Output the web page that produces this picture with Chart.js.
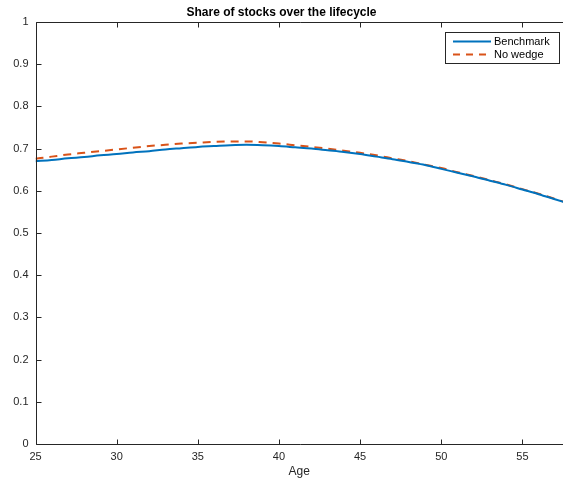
<!DOCTYPE html>
<html>
<head>
<meta charset="utf-8">
<script src="https://cdn.jsdelivr.net/npm/chart.js@4.4.1/dist/chart.umd.min.js"></script>
<style>
  html, body { margin: 0; padding: 0; background: #ffffff; overflow: hidden; }
  #wrap { width: 563px; height: 483px; position: relative; }
</style>
</head>
<body>
<div id="wrap"><canvas id="c" width="563" height="483"></canvas></div>
<script>
// ---- data ----
const ages      = [25, 26, 27, 28, 29, 30, 31, 32, 33, 34, 35, 36, 37, 38, 39, 40, 41, 42, 43, 44, 45, 46, 47, 48, 49, 50, 51, 52, 53, 54, 55, 56, 57, 58];
const benchmark = [0.670, 0.673, 0.677, 0.680, 0.684, 0.687, 0.691, 0.694, 0.698, 0.701, 0.704, 0.706, 0.708, 0.709, 0.708, 0.706, 0.703, 0.700, 0.696, 0.692, 0.687, 0.681, 0.675, 0.668, 0.661, 0.652, 0.643, 0.634, 0.624, 0.614, 0.603, 0.592, 0.580, 0.568];
const noWedge   = [0.676, 0.681, 0.686, 0.690, 0.694, 0.698, 0.702, 0.706, 0.709, 0.712, 0.714, 0.716, 0.717, 0.717, 0.715, 0.712, 0.708, 0.704, 0.700, 0.695, 0.690, 0.684, 0.677, 0.670, 0.662, 0.654, 0.644, 0.635, 0.625, 0.615, 0.604, 0.593, 0.581, 0.568];
const xTicks    = [25, 30, 35, 40, 45, 50, 55];
const yTicks    = [0, 0.1, 0.2, 0.3, 0.4, 0.5, 0.6, 0.7, 0.8, 0.9, 1];
const seriesNames = ['Benchmark', 'No wedge'];
const titleText = 'Share of stocks over the lifecycle';
const xLabel    = 'Age';

const AXIS = '#262626';
const BLUE = '#0072BD';
const ORANGE = '#D95319';
const FONT = '"Liberation Sans", Arial, Helvetica, sans-serif';

function toPoints(xs, ys) { return xs.map((x, i) => ({ x: x, y: ys[i] })); }

const boxPlugin = {
  id: 'matlabBox',
  afterDraw(chart) {
    const ctx = chart.ctx;
    const a = chart.chartArea;
    const xs = chart.scales.x, ys = chart.scales.y;
    ctx.save();
    ctx.strokeStyle = AXIS;
    ctx.lineWidth = 1;
    ctx.beginPath();
    const L = Math.round(a.left) + 0.5, B = Math.round(a.bottom) + 0.5, T = Math.round(a.top) + 0.5;
    ctx.moveTo(L, T); ctx.lineTo(L, B); ctx.lineTo(a.right + 5, B);
    ctx.moveTo(L, T); ctx.lineTo(a.right + 5, T);
    xTicks.forEach(v => {
      const px = Math.round(xs.getPixelForValue(v)) + 0.5;
      ctx.moveTo(px, B); ctx.lineTo(px, B - 5);
      ctx.moveTo(px, T); ctx.lineTo(px, T + 5);
    });
    yTicks.forEach(v => {
      const py = Math.round(ys.getPixelForValue(v)) + 0.5;
      ctx.moveTo(L, py); ctx.lineTo(L + 5, py);
    });
    ctx.stroke();

    // legend
    const lx = 445.5, ly = 32.5, lw = 114, lh = 31;
    ctx.fillStyle = '#ffffff';
    ctx.fillRect(lx, ly, lw, lh);
    ctx.strokeStyle = AXIS;
    ctx.lineWidth = 1;
    ctx.strokeRect(lx, ly, lw, lh);
    const colors = [BLUE, ORANGE];
    const dashes = [[], [7, 6]];
    seriesNames.forEach((name, i) => {
      const y = 41.5 + i * 13;
      ctx.beginPath();
      ctx.strokeStyle = colors[i];
      ctx.lineWidth = 2;
      ctx.setLineDash(dashes[i]);
      ctx.moveTo(453, y); ctx.lineTo(491, y);
      ctx.stroke();
      ctx.setLineDash([]);
      ctx.fillStyle = '#000000';
      ctx.font = '11px ' + FONT;
      ctx.textBaseline = 'middle';
      ctx.textAlign = 'left';
      ctx.fillText(name, 494, y);
    });
    ctx.restore();
  }
};

new Chart(document.getElementById('c'), {
  type: 'line',
  data: {
    datasets: [
      {
        label: seriesNames[0],
        data: toPoints(ages, benchmark),
        borderColor: BLUE,
        borderWidth: 2,
        pointRadius: 0,
        fill: false,
        cubicInterpolationMode: 'monotone'
      },
      {
        label: seriesNames[1],
        data: toPoints(ages, noWedge),
        borderColor: ORANGE,
        borderWidth: 2,
        borderDash: [8, 6],
        pointRadius: 0,
        fill: false,
        cubicInterpolationMode: 'monotone'
      }
    ]
  },
  options: {
    responsive: false,
    animation: false,
    devicePixelRatio: 1,
    layout: { padding: { left: 0, right: 0, top: 0, bottom: 0 } },
    plugins: {
      legend: { display: false },
      tooltip: { enabled: false },
      title: {
        display: true,
        text: titleText,
        color: '#000000',
        font: { family: FONT, size: 12, weight: 'bold' },
        padding: { top: 5, bottom: 2.6 }
      }
    },
    scales: {
      x: {
        type: 'linear',
        min: 25,
        max: 57.5,
        afterBuildTicks: s => { s.ticks = xTicks.map(v => ({ value: v })); },
        afterFit: s => { s.height = 39; },
        grid: { display: false, drawTicks: false },
        border: { display: false },
        ticks: {
          color: AXIS,
          font: { family: FONT, size: 11 },
          padding: 6,
          maxRotation: 0,
          autoSkip: false,
          callback: v => String(v)
        },
        title: {
          display: true,
          text: xLabel,
          color: AXIS,
          font: { family: FONT, size: 12 },
          padding: { top: 1, bottom: 4 }
        }
      },
      y: {
        type: 'linear',
        min: 0,
        max: 1,
        afterBuildTicks: s => { s.ticks = yTicks.map(v => ({ value: v })); },
        afterFit: s => { s.width = 35.5; },
        grid: { display: false, drawTicks: false },
        border: { display: false },
        ticks: {
          color: AXIS,
          font: { family: FONT, size: 11 },
          padding: 7,
          autoSkip: false,
          callback: v => String(Math.round(v * 10) / 10)
        }
      }
    }
  },
  plugins: [boxPlugin]
});
</script>
</body>
</html>
